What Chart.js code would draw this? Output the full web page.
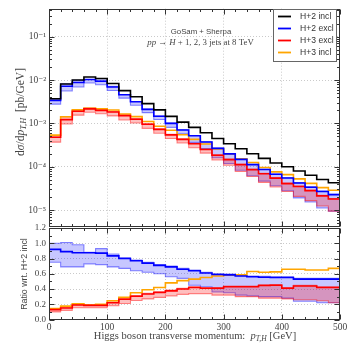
<!DOCTYPE html>
<html><head><meta charset="utf-8">
<script src="https://cdn.jsdelivr.net/npm/chart.js@4/dist/chart.umd.min.js"></script>
<style>
html,body{margin:0;padding:0;background:#fff;width:352px;height:352px;overflow:hidden}
#wrap{position:relative;width:352px;height:352px}
canvas{position:absolute;left:0;top:0}
</style></head>
<body><div id="wrap"><canvas id="c1" width="352" height="352"></canvas><canvas id="c2" width="352" height="352"></canvas></div>
<script>
// ---------- data ----------
const binEdges = [0,20,40,60,80,100,120,140,160,180,200,220,240,260,280,300,320,340,360,380,400,420,440,460,480,500];
const xTickValues = [0,100,200,300,400,500];
const logTickValues = [1e-5,1e-4,1e-3,1e-2,1e-1];
const ratioTickValues = [0,0.2,0.4,0.6,0.8,1.0,1.2];
const seriesNames = ['H+2 incl','H+2 excl','H+3 excl','H+3 incl'];

// main panel: dsigma/dpT [pb/GeV]
const h2incl   = [3.7e-3,8.1e-3,1.0e-2,1.17e-2,1.08e-2,8.3e-3,5.7e-3,4.1e-3,2.85e-3,2.05e-3,1.45e-3,1.07e-3,8.1e-4,6.1e-4,4.5e-4,3.4e-4,2.6e-4,2.0e-4,1.56e-4,1.22e-4,1.0e-4,8.0e-5,6.4e-5,5.1e-5,4.3e-5];
const h2excl   = [3.40e-3,7.21e-3,8.75e-3,1.024e-2,9.40e-3,6.93e-3,4.56e-3,3.16e-3,2.11e-3,1.46e-3,1.00e-3,7.06e-4,5.18e-4,3.72e-4,2.66e-4,1.99e-4,1.48e-4,1.12e-4,8.66e-5,6.71e-5,5.5e-5,4.24e-5,3.39e-5,2.70e-5,2.28e-5];
const h2exclLo = [2.78e-3,5.59e-3,6.9e-3,8.54e-3,7.78e-3,5.73e-3,3.82e-3,2.62e-3,1.77e-3,1.23e-3,8.12e-4,5.78e-4,3.65e-4,2.62e-4,1.62e-4,1.19e-4,8.32e-5,6.2e-5,4.68e-5,3.66e-5,2.8e-5,1.92e-5,1.54e-5,1.12e-5,9.5e-6];
const h2exclHi = [3.7e-3,8.18e-3,9.8e-3,1.03e-2,1.004e-2,7.14e-3,4.62e-3,3.20e-3,2.14e-3,1.48e-3,1.015e-3,7.17e-4,5.27e-4,3.78e-4,2.7e-4,2.02e-4,1.51e-4,1.14e-4,8.81e-5,6.83e-5,5.6e-5,4.32e-5,3.46e-5,2.75e-5,2.32e-5];
const h3excl   = [4.81e-4,1.215e-3,1.90e-3,2.16e-3,2.00e-3,1.83e-3,1.51e-3,1.25e-3,9.55e-4,7.28e-4,5.44e-4,4.28e-4,3.40e-4,2.50e-4,1.85e-4,1.46e-4,1.12e-4,8.6e-5,6.94e-5,5.49e-5,4.1e-5,3.52e-5,2.82e-5,2.14e-5,1.81e-5];
const h3exclLo = [3.7e-4,9.72e-4,1.55e-3,1.81e-3,1.67e-3,1.49e-3,1.20e-3,1.025e-3,7.70e-4,5.95e-4,4.50e-4,3.53e-4,2.75e-4,2.07e-4,1.44e-4,1.09e-4,7.8e-5,6.0e-5,4.37e-5,3.42e-5,2.7e-5,2.08e-5,1.66e-5,1.25e-5,9.5e-6];
const h3exclHi = [5.18e-4,1.34e-3,2.0e-3,2.28e-3,2.11e-3,1.91e-3,1.57e-3,1.29e-3,9.83e-4,7.48e-4,5.58e-4,4.39e-4,3.48e-4,2.56e-4,1.89e-4,1.50e-4,1.14e-4,8.8e-5,7.1e-5,5.61e-5,4.2e-5,3.6e-5,2.88e-5,2.19e-5,1.85e-5];
const h3incl   = [5.37e-4,1.42e-3,2.05e-3,2.22e-3,2.16e-3,2.03e-3,1.65e-3,1.435e-3,1.11e-3,8.61e-4,6.96e-4,5.46e-4,4.29e-4,3.36e-4,2.57e-4,1.97e-4,1.52e-4,1.26e-4,9.67e-5,7.63e-5,6.6e-5,5.28e-5,4.16e-5,3.32e-5,2.88e-5];

// ratio panel: ratio wrt. H+2 incl
const rH2excl   = [0.92,0.89,0.875,0.875,0.87,0.835,0.80,0.77,0.74,0.71,0.69,0.66,0.64,0.61,0.59,0.585,0.57,0.56,0.555,0.55,0.55,0.53,0.53,0.53,0.53];
const rH2exclLo = [0.75,0.69,0.69,0.73,0.72,0.69,0.67,0.64,0.62,0.60,0.56,0.54,0.45,0.43,0.36,0.35,0.32,0.31,0.30,0.30,0.28,0.24,0.24,0.22,0.22];
const rH2exclHi = [1.0,1.01,0.98,0.88,0.93,0.86,0.81,0.78,0.75,0.72,0.70,0.67,0.65,0.62,0.60,0.595,0.58,0.57,0.565,0.56,0.56,0.54,0.54,0.54,0.54];
const rH3excl   = [0.13,0.15,0.19,0.185,0.185,0.22,0.265,0.305,0.335,0.355,0.375,0.40,0.42,0.41,0.41,0.43,0.43,0.43,0.445,0.45,0.41,0.44,0.44,0.42,0.42];
const rH3exclLo = [0.10,0.12,0.155,0.155,0.155,0.18,0.21,0.25,0.27,0.29,0.31,0.33,0.34,0.34,0.32,0.32,0.30,0.30,0.28,0.28,0.27,0.26,0.26,0.245,0.22];
const rH3exclHi = [0.14,0.165,0.20,0.195,0.195,0.23,0.275,0.315,0.345,0.365,0.385,0.41,0.43,0.42,0.42,0.44,0.44,0.44,0.455,0.46,0.42,0.45,0.45,0.43,0.43];
const rH3incl   = [0.145,0.175,0.205,0.19,0.20,0.245,0.29,0.35,0.39,0.42,0.48,0.51,0.53,0.55,0.57,0.58,0.585,0.63,0.62,0.625,0.66,0.66,0.65,0.65,0.67];

// ---------- helpers ----------
const SERIF = '"Liberation Serif","DejaVu Serif",serif';
const SANS = '"Liberation Sans","DejaVu Sans",sans-serif';
const TXT = '#444';
const C = {black:'#000000', blue:'#0000ff', red:'#ff0000', orange:'#ffa500'};

function steps(vals){ // histogram: value of bin i from edge i to edge i+1
  return binEdges.map((x,i)=>({x:x, y:vals[Math.min(i, vals.length-1)]}));
}
function lineDs(label, vals, color, yID){
  return {label, data:steps(vals), borderColor:color, borderWidth:1.6, stepped:'before',
          pointRadius:0, fill:false, yAxisID:yID};
}
function bandDs(vals, color, yID, fillTarget, fillColor){
  return {label:'', data:steps(vals), borderColor:color, borderWidth:1.1, stepped:'before',
          pointRadius:0, fill: fillTarget===null ? false : {target:fillTarget}, backgroundColor:fillColor, yAxisID:yID};
}
const SUP = {'-':'\u207B','0':'\u2070','1':'\u00B9','2':'\u00B2','3':'\u00B3','4':'\u2074','5':'\u2075','6':'\u2076','7':'\u2077','8':'\u2078','9':'\u2079'};
function sup(s){return String(s).split('').map(c=>SUP[c]||c).join('');}

function drawRich(ctx, segs, x, y, size, align){
  const fontOf = s => (s.it?'italic ':'') + (s.sub? size*0.72 : size) + 'px ' + (s.fam||SERIF);
  let w = 0;
  segs.forEach(s=>{ctx.font=fontOf(s); w += ctx.measureText(s.t).width;});
  let cx = align==='center' ? x - w/2 : x;
  ctx.textBaseline='middle'; ctx.textAlign='left';
  segs.forEach(s=>{ctx.font=fontOf(s); ctx.fillText(s.t, cx, y + (s.sub? size*0.28:0)); cx += ctx.measureText(s.t).width;});
}

const GRID = '#bdbdbd';
const gridColor = (c)=> (c.tick && (c.tick.value===0 || c.tick.value===500)) ? 'rgba(0,0,0,0)' : GRID;

// frame + inward ticks
const framePlugin = {
  id:'frame',
  afterDatasetsDraw(chart, args, opts){
    const {ctx, chartArea:a} = chart;
    const xs = chart.scales.x, ys = chart.scales[opts.yid];
    const L = Math.round(a.left)+0.5, R = Math.round(a.right)-0.5, T = Math.round(a.top)+0.5, B = Math.round(a.bottom)-0.5;
    ctx.save();
    ctx.strokeStyle='#333'; ctx.lineWidth=1;
    ctx.beginPath();
    for(let v=0; v<=500; v+=20){
      const px = Math.round(xs.getPixelForValue(v))+0.5;
      const len = v%100===0 ? 5 : 2.5;
      ctx.moveTo(px,B); ctx.lineTo(px,B-len);
      ctx.moveTo(px,T); ctx.lineTo(px,T+len);
    }
    const yt = [];
    if(opts.log){
      for(let e=-7;e<=0;e++) for(let k=1;k<=9;k++){const v=k*Math.pow(10,e); if(v>=ys.min && v<=ys.max) yt.push([v,k===1?5:2.5]);}
    } else {
      for(let i=0;i<=12;i++) yt.push([i/10, i%2===0?5:2.5]);
    }
    yt.forEach(([v,len])=>{
      const py = Math.round(ys.getPixelForValue(v))+0.5;
      ctx.moveTo(L,py); ctx.lineTo(L+len,py);
      ctx.moveTo(R,py); ctx.lineTo(R-len,py);
    });
    ctx.stroke();
    ctx.strokeRect(L,T,R-L,B-T);
    ctx.restore();
  }
};

const mainText = {
  id:'mainText',
  afterDraw(chart){
    const ctx = chart.ctx;
    ctx.save();
    ctx.fillStyle = TXT;
    drawRich(ctx,[{t:'GoSam + Sherpa', fam:SANS}], 201, 32, 7.8, 'center');
    drawRich(ctx,[{t:'pp',it:true},{t:' \u2192 '},{t:'H',it:true},{t:' + 1, 2, 3 jets at 8 TeV'}], 200.5, 43, 8.8, 'center');
    ctx.translate(21, 112); ctx.rotate(-Math.PI/2);
    drawRich(ctx,[{t:'d'},{t:'\u03C3',it:true},{t:'/d'},{t:'p',it:true},{t:'T,H',it:true,sub:true},{t:'  [pb/GeV]'}], 0, 0, 11.5, 'center');
    ctx.restore();
    // legend
    ctx.save();
    const bx=273.5, by=9.5, bw=63, bh=52;
    ctx.fillStyle='#fff'; ctx.fillRect(bx,by,bw,bh);
    ctx.strokeStyle='#666'; ctx.lineWidth=1; ctx.strokeRect(bx,by,bw,bh);
    const cols=[C.black,C.blue,C.red,C.orange];
    seriesNames.forEach((n,i)=>{
      const y = 16.5 + i*12;
      ctx.strokeStyle=cols[i]; ctx.lineWidth=1.8;
      ctx.beginPath(); ctx.moveTo(278,y); ctx.lineTo(291,y); ctx.stroke();
      ctx.fillStyle='#333'; ctx.font='8.6px '+SANS; ctx.textBaseline='middle'; ctx.textAlign='left';
      ctx.fillText(n, 300, y+0.5);
    });
    ctx.restore();
  }
};

const ratioText = {
  id:'ratioText',
  afterDraw(chart){
    const ctx = chart.ctx;
    ctx.save();
    ctx.fillStyle = TXT;
    drawRich(ctx,[{t:'Higgs boson transverse momentum:  '},{t:'p',it:true},{t:'T,H',it:true,sub:true},{t:' [GeV]'}], 195, 336, 10.5, 'center');
    ctx.translate(25, 274); ctx.rotate(-Math.PI/2);
    drawRich(ctx,[{t:'Ratio wrt. H+2 incl', fam:SANS}], 0, 0, 8.8, 'center');
    ctx.restore();
  }
};

Chart.defaults.font.family = SERIF;
Chart.defaults.color = TXT;

// ---------- main chart ----------
new Chart(document.getElementById('c1'), {
  type:'line',
  data:{datasets:[
    lineDs(seriesNames[0], h2incl, C.black, 'y'),
    lineDs(seriesNames[1], h2excl, C.blue, 'y'),
    lineDs(seriesNames[2], h3excl, C.red, 'y'),
    lineDs(seriesNames[3], h3incl, C.orange, 'y'),
    bandDs(h3exclHi, 'rgba(255,0,0,0.45)', 'y', 5, 'rgba(255,0,0,0.25)'),
    bandDs(h3exclLo, 'rgba(255,0,0,0.45)', 'y', null, null),
    bandDs(h2exclHi, 'rgba(0,0,255,0.45)', 'y', 7, 'rgba(0,0,255,0.22)'),
    bandDs(h2exclLo, 'rgba(0,0,255,0.45)', 'y', null, null)
  ]},
  options:{
    responsive:false, animation:false, devicePixelRatio:1,
    layout:{padding:{top:5,right:12,left:0,bottom:124}},
    plugins:{legend:{display:false}, tooltip:{enabled:false}, frame:{yid:'y', log:true}},
    scales:{
      x:{type:'linear', min:0, max:500,
         afterBuildTicks:s=>{s.ticks = xTickValues.map(v=>({value:v}));},
         afterFit:s=>{s.height=1;},
         ticks:{display:false}, border:{display:false, dash:[1,2]},
         grid:{color:gridColor, lineWidth:0.8, drawTicks:false}},
      y:{type:'logarithmic', min:4.1e-6, max:0.44,
         afterBuildTicks:s=>{s.ticks = logTickValues.map(v=>({value:v, major:true}));},
         afterFit:s=>{s.width=49;},
         ticks:{callback:(v)=>'10'+sup(Math.round(Math.log10(v))), font:{size:9.5}, color:TXT, padding:3},
         border:{display:false, dash:[1,2]},
         grid:{color:GRID, lineWidth:0.8, drawTicks:false}}
    }
  },
  plugins:[framePlugin, mainText]
});

// ---------- ratio chart ----------
new Chart(document.getElementById('c2'), {
  type:'line',
  data:{datasets:[
    lineDs(seriesNames[1], rH2excl, C.blue, 'y2'),
    lineDs(seriesNames[2], rH3excl, C.red, 'y2'),
    lineDs(seriesNames[3], rH3incl, C.orange, 'y2'),
    bandDs(rH3exclHi, 'rgba(255,0,0,0.45)', 'y2', 4, 'rgba(255,0,0,0.25)'),
    bandDs(rH3exclLo, 'rgba(255,0,0,0.45)', 'y2', null, null),
    bandDs(rH2exclHi, 'rgba(0,0,255,0.45)', 'y2', 6, 'rgba(0,0,255,0.22)'),
    bandDs(rH2exclLo, 'rgba(0,0,255,0.45)', 'y2', null, null)
  ]},
  options:{
    responsive:false, animation:false, devicePixelRatio:1,
    layout:{padding:{top:228,right:12,left:0,bottom:0}},
    plugins:{legend:{display:false}, tooltip:{enabled:false}, frame:{yid:'y2', log:false}},
    scales:{
      x:{type:'linear', min:0, max:500,
         afterBuildTicks:s=>{s.ticks = xTickValues.map(v=>({value:v}));},
         afterFit:s=>{s.height=32.5;},
         ticks:{font:{size:9.5}, color:TXT, padding:2, maxRotation:0, callback:v=>String(v)},
         border:{display:false, dash:[1,2]},
         grid:{color:gridColor, lineWidth:0.8, drawTicks:false}},
      y2:{type:'linear', position:'left', min:0, max:1.2,
         afterBuildTicks:s=>{s.ticks = ratioTickValues.map(v=>({value:v}));},
         afterFit:s=>{s.width=49;},
         ticks:{callback:v=>v.toFixed(1), font:{size:9}, color:TXT, padding:3},
         border:{display:false, dash:[1,2]},
         grid:{color:(c)=>(c.tick && (c.tick.value===0 || Math.abs(c.tick.value-1.2)<1e-6))?'rgba(0,0,0,0)':GRID, lineWidth:0.8, drawTicks:false}}
    }
  },
  plugins:[framePlugin, ratioText]
});
</script>
</body></html>
